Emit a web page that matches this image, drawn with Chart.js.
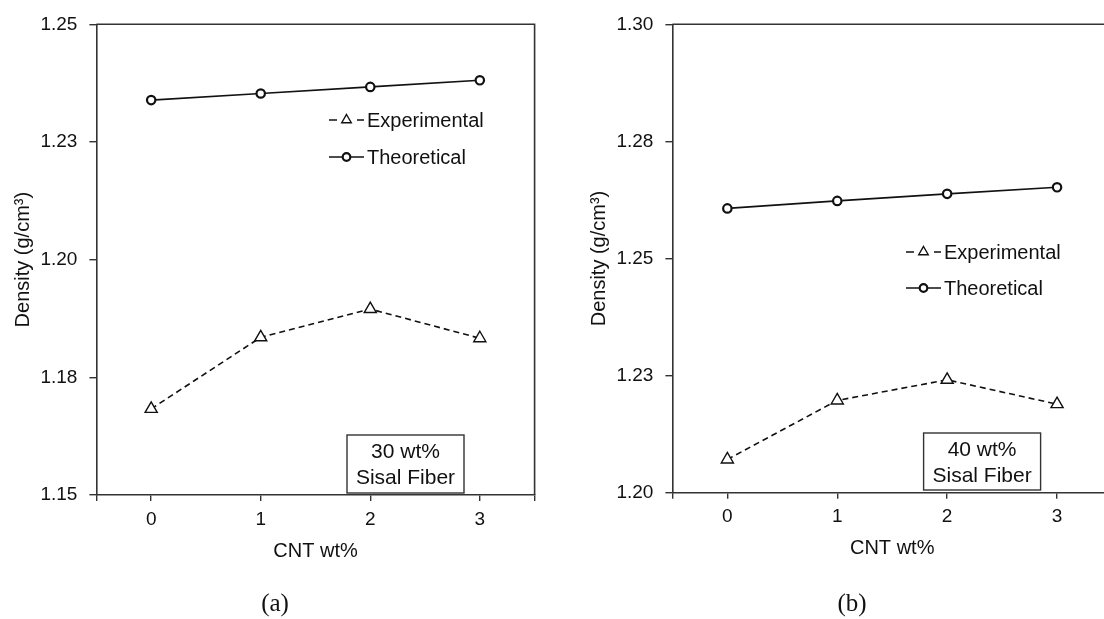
<!DOCTYPE html>
<html>
<head>
<meta charset="utf-8">
<script src="https://cdn.jsdelivr.net/npm/chart.js@4.4.1/dist/chart.umd.min.js"></script>
<style>
  html, body { margin: 0; padding: 0; background: #fff; overflow: hidden; }
  body { width: 1104px; height: 619px; position: relative; }
  .panel { position: absolute; top: 0; width: 560px; height: 619px; }
  .cap { position: absolute; top: 589px; font-family: "Liberation Serif", "Times New Roman", serif;
         font-size: 25px; color: #111; transform: translateX(-50%); }
</style>
</head>
<body>
<div class="panel" style="left:0"><canvas id="chartA" width="560" height="619"></canvas></div>
<div class="panel" style="left:576px"><canvas id="chartB" width="560" height="619"></canvas></div>
<div class="cap" style="left:275px">(a)</div>
<div class="cap" style="left:852px">(b)</div>
<script>
// CNT loading (wt%) on the x axis
const cntWt = [0, 1, 2, 3];

// (a) 30 wt% sisal fiber
const expA = [1.1683, 1.1835, 1.1895, 1.1833];
const theoA = [1.2339, 1.2353, 1.2367, 1.2381];
const yTicksA = [1.15, 1.175, 1.2, 1.225, 1.25];
const yLabelsA = ["1.15", "1.18", "1.20", "1.23", "1.25"];

// (b) 40 wt% sisal fiber
const expB = [1.2071, 1.2197, 1.2241, 1.2189];
const theoB = [1.2607, 1.2623, 1.2638, 1.2652];
const yTicksB = [1.2, 1.225, 1.25, 1.275, 1.3];
const yLabelsB = ["1.20", "1.23", "1.25", "1.28", "1.30"];

const seriesNames = ["Experimental", "Theoretical"];

Chart.defaults.font.family = '"Liberation Sans", Arial, sans-serif';
Chart.defaults.color = '#111';

const ink = '#111';
const axisInk = '#333';

// frame on top and right of the plot area
const frame = {
  id: 'frame',
  beforeDatasetsDraw(chart) {
    const { ctx, chartArea: a } = chart;
    ctx.save();
    ctx.strokeStyle = axisInk;
    ctx.lineWidth = 1.6;
    ctx.beginPath();
    ctx.moveTo(a.left, a.top);
    ctx.lineTo(a.right, a.top);
    ctx.lineTo(a.right, a.bottom);
    ctx.stroke();
    ctx.restore();
  }
};

// legend drawn inside the plot
const insideLegend = {
  id: 'insideLegend',
  afterDatasetsDraw(chart, args, opts) {
    const ctx = chart.ctx;
    chart.data.datasets.forEach((ds, i) => {
      const y = opts.y + i * opts.gap;
      const x0 = opts.x, x1 = opts.x + 35, xm = (x0 + x1) / 2;
      ctx.save();
      ctx.strokeStyle = ds.borderColor;
      ctx.lineWidth = 1.5;
      ctx.setLineDash(ds.borderDash.length ? [8, 20] : []);
      ctx.beginPath();
      ctx.moveTo(x0, y);
      ctx.lineTo(x1, y);
      ctx.stroke();
      ctx.setLineDash([]);
      ctx.fillStyle = '#fff';
      ctx.lineWidth = ds.pointBorderWidth;
      Chart.helpers.drawPoint(ctx, {
        pointStyle: ds.pointStyle, radius: ds.pointStyle === 'triangle' ? 5.5 : 3.8,
        borderWidth: ds.pointBorderWidth, rotation: 0
      }, xm, y);
      ctx.fillStyle = ink;
      ctx.font = '20px "Liberation Sans", Arial, sans-serif';
      ctx.textBaseline = 'middle';
      ctx.fillText(ds.label, x1 + 3, y + 1);
      ctx.restore();
    });
  }
};

// boxed note
const noteBox = {
  id: 'noteBox',
  afterDatasetsDraw(chart, args, opts) {
    const ctx = chart.ctx;
    ctx.save();
    ctx.fillStyle = '#fff';
    ctx.fillRect(opts.x, opts.y, opts.w, opts.h);
    ctx.strokeStyle = axisInk;
    ctx.lineWidth = 1.4;
    ctx.strokeRect(opts.x, opts.y, opts.w, opts.h);
    ctx.fillStyle = ink;
    ctx.font = '21px "Liberation Sans", Arial, sans-serif';
    ctx.textAlign = 'center';
    ctx.textBaseline = 'middle';
    opts.lines.forEach((t, i) => ctx.fillText(t, opts.x + opts.w / 2, opts.y + 17 + i * 26));
    ctx.restore();
  }
};

function makeChart(id, exp, theo, yTicks, yLabels, p) {
  return new Chart(document.getElementById(id), {
    type: 'line',
    data: {
      datasets: [
        {
          label: seriesNames[0],
          data: cntWt.map((x, i) => ({ x: x, y: exp[i] })),
          borderColor: ink, borderWidth: 1.6, borderDash: [6, 4],
          pointStyle: 'triangle', pointRadius: 7, pointBorderWidth: 1.4,
          pointBackgroundColor: '#fff', pointBorderColor: ink, tension: 0
        },
        {
          label: seriesNames[1],
          data: cntWt.map((x, i) => ({ x: x, y: theo[i] })),
          borderColor: ink, borderWidth: 1.6, borderDash: [],
          pointStyle: 'circle', pointRadius: 4.2, pointBorderWidth: 2.2,
          pointBackgroundColor: '#fff', pointBorderColor: ink, tension: 0
        }
      ]
    },
    options: {
      responsive: false,
      animation: false,
      layout: { padding: { left: 0, top: 24.3, right: p.right, bottom: p.bottom } },
      plugins: {
        legend: { display: false },
        tooltip: { enabled: false },
        insideLegend: p.legend,
        noteBox: p.note
      },
      scales: {
        x: {
          type: 'linear', min: -0.5, max: 3.5,
          afterBuildTicks: s => { s.ticks = [-0.5].concat(cntWt, [3.5]).map(v => ({ value: v })); },
          afterFit: s => { s.height = 75; },
          ticks: {
            font: { size: 19 }, color: ink, padding: 7,
            callback: v => cntWt.includes(v) ? String(v) : ''
          },
          grid: { drawOnChartArea: false, tickLength: 6, color: axisInk, lineWidth: 1.4 },
          border: { display: true, color: axisInk, width: 1.6 },
          title: { display: true, text: 'CNT wt%', font: { size: 20 }, color: ink, padding: { top: 0, bottom: 7 } }
        },
        y: {
          min: yTicks[0], max: yTicks[yTicks.length - 1],
          afterBuildTicks: s => { s.ticks = yTicks.map(v => ({ value: v })); },
          afterFit: s => { s.width = 96.4; },
          ticks: {
            font: { size: 19 }, color: ink, padding: 12,
            callback: (v, i) => yLabels[i]
          },
          grid: { drawOnChartArea: false, tickLength: 7, color: axisInk, lineWidth: 1.4 },
          border: { display: true, color: axisInk, width: 1.6 },
          title: { display: true, text: 'Density (g/cm³)', font: { size: 20 }, color: ink, padding: { top: 11, bottom: 0 } }
        }
      }
    },
    plugins: [frame, insideLegend, noteBox]
  });
}

makeChart('chartA', expA, theoA, yTicksA, yLabelsA, {
  right: 25.4, bottom: 49,
  legend: { x: 329, y: 120, gap: 37 },
  note: { x: 347, y: 435, w: 117, h: 58, lines: ['30 wt%', 'Sisal Fiber'] }
});

makeChart('chartB', expB, theoB, yTicksB, yLabelsB, {
  right: 24, bottom: 51.3,
  legend: { x: 330, y: 252, gap: 36 },
  note: { x: 347.6, y: 433, w: 117, h: 57, lines: ['40 wt%', 'Sisal Fiber'] }
});
</script>
</body>
</html>
